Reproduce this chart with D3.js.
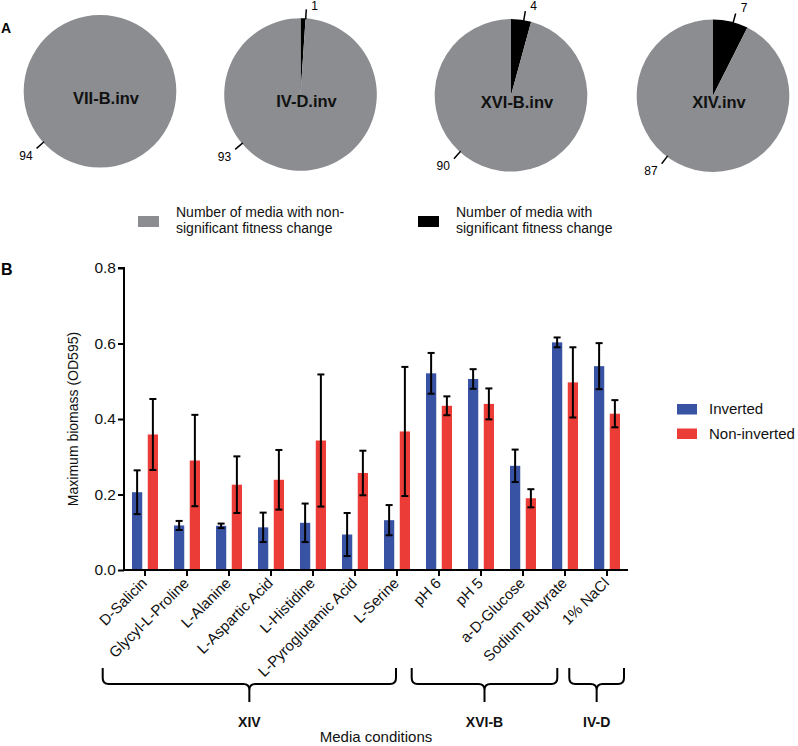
<!DOCTYPE html>
<html><head><meta charset="utf-8">
<script src="https://cdn.jsdelivr.net/npm/d3@7"></script>
<style>
html,body{margin:0;padding:0;background:#fff;}
svg{display:block;font-family:"Liberation Sans",Arial,Helvetica,sans-serif;}
</style></head>
<body>
<svg id="chart" width="798" height="746"></svg>
<script>
// ---- Panel A data ----
const pieNames = ["VII-B.inv", "IV-D.inv", "XVI-B.inv", "XIV.inv"];
const sigCounts = [0, 1, 4, 7];
const nonSigCounts = [94, 93, 90, 87];
const pieLegend = [
  ["Number of media with non-", "significant fitness change"],
  ["Number of media with", "significant fitness change"]
];

// ---- Panel B data ----
const categories = ["D-Salicin", "Glycyl-L-Proline", "L-Alanine", "L-Aspartic Acid", "L-Histidine",
  "L-Pyroglutamic Acid", "L-Serine", "pH 6", "pH 5", "a-D-Glucose", "Sodium Butyrate", "1% NaCl"];
const seriesNames = ["Inverted", "Non-inverted"];
const invertedValues = [0.206, 0.118, 0.117, 0.113, 0.125, 0.094, 0.132, 0.521, 0.506, 0.276, 0.603, 0.540];
const invertedErrors = [0.058, 0.012, 0.006, 0.039, 0.051, 0.057, 0.040, 0.054, 0.026, 0.043, 0.013, 0.061];
const nonInvertedValues = [0.359, 0.290, 0.226, 0.239, 0.343, 0.257, 0.367, 0.435, 0.440, 0.190, 0.497, 0.414];
const nonInvertedErrors = [0.094, 0.121, 0.075, 0.079, 0.175, 0.059, 0.171, 0.025, 0.041, 0.024, 0.093, 0.036];
const yTicks = [0.0, 0.2, 0.4, 0.6, 0.8];
const groupNames = ["XIV", "XVI-B", "IV-D"];
const groupFirst = [0, 7, 11];
const groupLast = [6, 10, 11];

// ---- styles / layout ----
const GREY = "#8b8d90", BLUE = "#3953a4", RED = "#ec3c38";
const seriesColors = [BLUE, RED];
const svg = d3.select("#chart");

// Panel labels
svg.append("text").attr("x", 1).attr("y", 33).attr("font-size", 14).attr("font-weight", "bold").text("A");
svg.append("text").attr("x", 1).attr("y", 275).attr("font-size", 16).attr("font-weight", "bold").text("B");

// ---- Pies ----
const pieCenters = [[100, 91.3], [300.5, 94.5], [511, 95.3], [713, 95.7]];
const pieR = 76.3;
const bigLabelAngle = [228, 230, 222, 217]; // degrees clockwise from top
const pie = d3.pie().sort(null).value(d => d.v);
const arc = d3.arc().innerRadius(0).outerRadius(pieR);
pieNames.forEach((name, i) => {
  const g = svg.append("g").attr("transform", `translate(${pieCenters[i][0]},${pieCenters[i][1]})`);
  const arcs = pie([{k: "sig", v: sigCounts[i]}, {k: "non", v: nonSigCounts[i]}]);
  g.selectAll("path").data(arcs.filter(a => a.data.v > 0)).join("path")
    .attr("d", arc).attr("fill", d => d.data.k === "sig" ? "#000" : GREY);
  g.append("text").attr("x", 6).attr("y", 12.5).attr("text-anchor", "middle")
    .attr("font-size", 16.5).attr("font-weight", "bold").attr("fill", "#111").text(name);
  // leader + labels
  function leader(angDeg, value, isBig) {
    const a = angDeg * Math.PI / 180;
    const sx = Math.sin(a), sy = -Math.cos(a);
    const r0 = pieR - 1, r1 = pieR + 9;
    g.append("line").attr("x1", sx * r0).attr("y1", sy * r0).attr("x2", sx * r1).attr("y2", sy * r1)
      .attr("stroke", "#000").attr("stroke-width", 1.5);
    const t = g.append("text").attr("font-size", 12).attr("fill", "#000").text(value);
    if (isBig) t.attr("x", sx * r1 - 4).attr("y", sy * r1 + 11.5).attr("text-anchor", "end");
    else t.attr("x", sx * r1 + 5).attr("y", Math.max(sy * r1 - 1.5, 9.5 - pieCenters[i][1])).attr("text-anchor", "start");
  }
  leader(bigLabelAngle[i], nonSigCounts[i], true);
  if (sigCounts[i] > 0) {
    const s = arcs[0];
    leader((s.startAngle + s.endAngle) / 2 * 180 / Math.PI + 2, sigCounts[i], false);
  }
});

// pie legend
const pieLegX = [138, 418], pieLegColors = [GREY, "#000"];
pieLegend.forEach((lines, i) => {
  svg.append("rect").attr("x", pieLegX[i]).attr("y", 216).attr("width", 21).attr("height", 11).attr("fill", pieLegColors[i]);
  lines.forEach((l, j) => {
    svg.append("text").attr("x", pieLegX[i] + 38).attr("y", 217 + j * 16).attr("font-size", 14).attr("fill", "#111").text(l);
  });
});

// ---- Bar chart ----
const x = d3.scaleBand().domain(categories).range([124, 628]).paddingInner(0).paddingOuter(0);
const xs = d3.scaleBand().domain(seriesNames).range([8, 34]).paddingInner(0.35);
const y = d3.scaleLinear().domain([0, 0.8]).range([570, 268]);

const seriesVals = [invertedValues, nonInvertedValues];
const seriesErrs = [invertedErrors, nonInvertedErrors];
const barG = svg.append("g");
seriesNames.forEach((s, si) => {
  categories.forEach((c, ci) => {
    const bx = x(c) + xs(s), bw = xs.bandwidth(), v = seriesVals[si][ci], e = seriesErrs[si][ci];
    barG.append("rect").attr("x", bx).attr("y", y(v)).attr("width", bw).attr("height", y(0) - y(v)).attr("fill", seriesColors[si]);
    const cx = bx + bw / 2;
    const eg = barG.append("g").attr("stroke", "#000").attr("stroke-width", 2);
    eg.append("line").attr("x1", cx).attr("x2", cx).attr("y1", y(v + e)).attr("y2", y(v - e));
    eg.append("line").attr("x1", cx - 3.5).attr("x2", cx + 3.5).attr("y1", y(v + e)).attr("y2", y(v + e));
    eg.append("line").attr("x1", cx - 3.5).attr("x2", cx + 3.5).attr("y1", y(v - e)).attr("y2", y(v - e));
  });
});

// Y axis
const yAxis = d3.axisLeft(y).tickValues(yTicks).tickFormat(d3.format(".1f")).tickSize(6).tickPadding(2);
const yg = svg.append("g").attr("transform", "translate(124,0)").call(yAxis);
yg.select(".domain").attr("stroke", "#000").attr("stroke-width", 2).attr("d", `M0,${y(0) + 1}V${y(0.8)}H-6`);
yg.selectAll(".tick line").attr("stroke", "#000").attr("stroke-width", 2);
yg.selectAll(".tick text").attr("font-size", 15.5).attr("fill", "#111").attr("font-family", null);
yg.attr("font-family", null);

// X axis
const xAxis = d3.axisBottom(x).tickSize(6).tickFormat("");
const xg = svg.append("g").attr("transform", `translate(0,${y(0)})`).call(xAxis);
xg.attr("font-family", null);
xg.select(".domain").attr("stroke", "#000").attr("stroke-width", 2).attr("d", `M123,0H628`);
xg.selectAll(".tick line").attr("stroke", "#000").attr("stroke-width", 2);

// rotated category labels
svg.append("g").selectAll("text").data(categories).join("text")
  .attr("transform", d => `translate(${x(d) + x.bandwidth() / 2 + 3},${y(0) + 14}) rotate(-45)`)
  .attr("text-anchor", "end").attr("font-size", 15).attr("fill", "#111").text(d => d);

// Y title
svg.append("text").attr("transform", `translate(78,${(y(0) + y(0.8)) / 2}) rotate(-90)`)
  .attr("text-anchor", "middle").attr("font-size", 14).attr("fill", "#111").text("Maximum biomass (OD595)");

// Legend
seriesNames.forEach((s, i) => {
  svg.append("rect").attr("x", 677).attr("y", 404 + i * 24.5).attr("width", 20).attr("height", 10.5).attr("fill", seriesColors[i]);
  svg.append("text").attr("x", 709).attr("y", 414 + i * 24.5).attr("font-size", 15).attr("fill", "#111").text(s);
});

// Braces
const braceLeftPad = [42.3, 27.3, 37.7], braceRightPad = [-1, -7.7, 17];
const T = 668, H = 684, P = 702, r = 6;
groupNames.forEach((gname, i) => {
  const L = x(categories[groupFirst[i]]) + x.bandwidth() / 2 - braceLeftPad[i];
  const R = x(categories[groupLast[i]]) + x.bandwidth() / 2 + braceRightPad[i];
  const C = (L + R) / 2;
  const d = `M${L},${T}V${H - r}Q${L},${H} ${L + r},${H}H${C - r}Q${C},${H} ${C},${H + r}V${P}` +
            `M${R},${T}V${H - r}Q${R},${H} ${R - r},${H}H${C + r}Q${C},${H} ${C},${H + r}`;
  svg.append("path").attr("d", d).attr("fill", "none").attr("stroke", "#000").attr("stroke-width", 2);
  svg.append("text").attr("x", C).attr("y", 727).attr("text-anchor", "middle").attr("font-size", 14)
    .attr("font-weight", "bold").attr("fill", "#111").text(gname);
});

// X title
svg.append("text").attr("x", (124 + 628) / 2).attr("y", 742).attr("text-anchor", "middle")
  .attr("font-size", 15).attr("fill", "#111").text("Media conditions");
</script>
</body></html>
